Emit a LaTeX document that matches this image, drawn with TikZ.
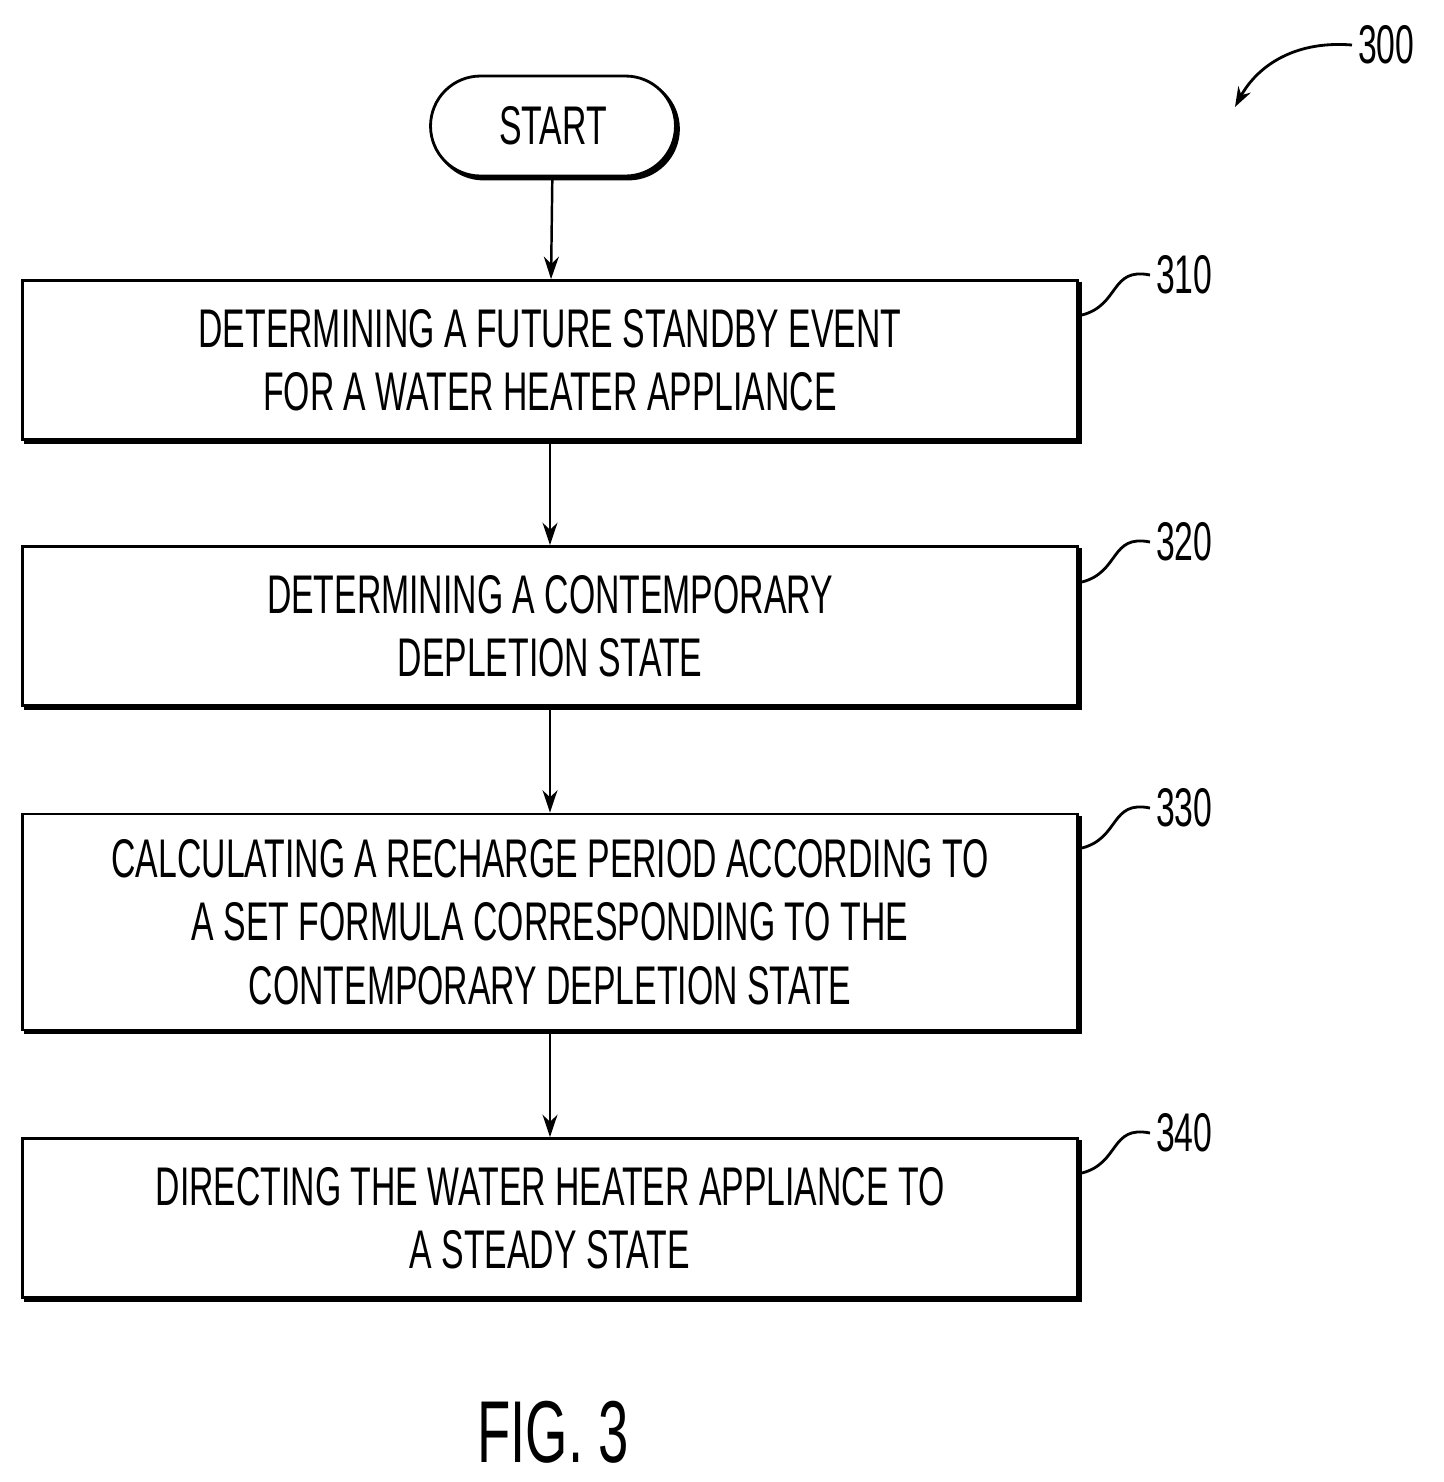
\documentclass[tikz,border=0pt]{standalone}
\usepackage{fontspec}
\setmainfont{Liberation Sans}[FakeStretch=0.62]
\usetikzlibrary{arrows.meta,positioning,shadows}
\tikzset{
  stepbox/.style={draw,line width=1.6pt,minimum width=21.12cm,align=center,
    font=\fontsize{31}{36}\selectfont,fill=white,
    copy shadow={shadow xshift=0.06cm,shadow yshift=-0.06cm,opacity=1,fill=black}},
  flow/.style={-{Stealth[length=0.45cm,width=0.3cm]},line width=1.4pt},
  refnum/.style={font=\fontsize{31}{36}\selectfont,anchor=west},
  lead/.style={line width=1.6pt}
}
\begin{document}
\begin{tikzpicture}[x=0.02cm,y=-0.02cm]
\useasboundingbox (0,0) rectangle (1444,1482);

\node[draw,line width=1.6pt,rounded corners=1cm,minimum width=4.9cm,minimum height=2cm,
  font=\fontsize{31}{36}\selectfont,fill=white,
  copy shadow={shadow xshift=0.06cm,shadow yshift=-0.06cm,opacity=1,fill=black}] (start) at (553,126) {START};

\node[stepbox,minimum height=3.18cm] (s310) at (550,360) {DETERMINING A FUTURE STANDBY EVENT\\FOR A WATER HEATER APPLIANCE};
\node[stepbox,minimum height=3.18cm] (s320) at (550,626) {DETERMINING A CONTEMPORARY\\DEPLETION STATE};
\node[stepbox,minimum height=4.32cm] (s330) at (550,922) {CALCULATING A RECHARGE PERIOD ACCORDING TO\\A SET FORMULA CORRESPONDING TO THE\\CONTEMPORARY DEPLETION STATE};
\node[stepbox,minimum height=3.18cm] (s340) at (550,1218) {DIRECTING THE WATER HEATER APPLIANCE TO\\A STEADY STATE};

\draw[flow] (start) -- (s310);
\draw[flow] (s310) -- (s320);
\draw[flow] (s320) -- (s330);
\draw[flow] (s330) -- (s340);

% reference numerals
\foreach \n/\y in {310/275,320/542,330/808,340/1133}{
  \node[refnum] (l\n) at (1150,\y) {\n};
  \draw[lead] (1082,\y+40) .. controls (1120,\y+30) and (1110,\y-8) .. (l\n.west);
}

\node[refnum] (l300) at (1352,45) {300};
\coordinate (p300) at (1235,107);
\draw[lead,-{Stealth[length=0.4cm,width=0.28cm]}] (l300.west) .. controls (1290,40) and (1255,70) .. (p300);

\node[font=\fontsize{50}{56}\selectfont] (fig) at (553,1432) {FIG. 3};
\end{tikzpicture}
\end{document}
